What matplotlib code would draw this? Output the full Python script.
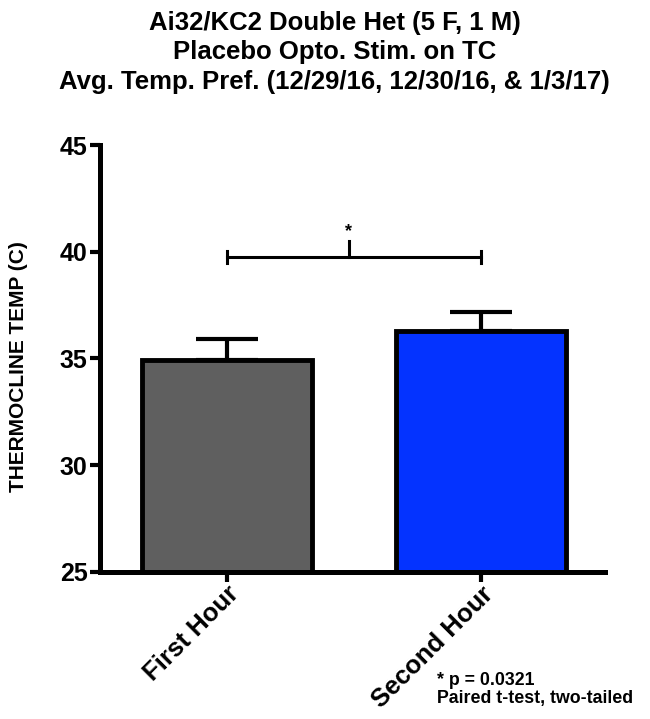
import numpy as np
import matplotlib.pyplot as plt

plt.rcParams['font.family'] = ['Liberation Sans', 'DejaVu Sans']
plt.rcParams['font.weight'] = 'bold'

# data
groups = ['First Hour', 'Second Hour']
means = [34.92, 36.30]
sems = [1.0, 0.86]
colors = ['#5f5f5f', '#0433ff']
yticks = [25, 30, 35, 40, 45]

fig = plt.figure(figsize=(6.5, 7.19), dpi=100)
ax = fig.add_axes([0.1538, 0.2045, 0.777, 0.5938])

x = np.arange(len(groups))
ax.bar(x, means, width=0.67, color=colors, edgecolor='black', linewidth=3.5, zorder=2)
ax.errorbar(x, means, yerr=[[0, 0], sems], fmt='none', ecolor='black',
            elinewidth=3, capsize=22, capthick=3, zorder=1)

ax.set_xlim(-0.5, 1.488)
ax.set_ylim(25, 45)
ax.set_yticks(yticks)
ax.set_xticks(x)
ax.set_xticklabels(groups, rotation=45, ha='right', rotation_mode='anchor',
                   fontsize=18.5, fontweight='bold')
ax.tick_params(axis='y', labelsize=18, width=3, length=7, pad=2, direction='out')
ax.tick_params(axis='x', width=3, length=7, pad=0, direction='out')
for lbl in ax.get_yticklabels():
    lbl.set_fontweight('bold')
for s in ['top', 'right']:
    ax.spines[s].set_visible(False)
for s in ['left', 'bottom']:
    ax.spines[s].set_linewidth(3.6)

ax.set_ylabel('THERMOCLINE TEMP (C)', fontsize=15, fontweight='bold')
ax.yaxis.set_label_coords(-0.143, 0.48)

# significance bracket
yb = 39.75
ax.plot([x[0], x[1]], [yb, yb], color='black', lw=2.2, zorder=3)
ax.plot([x[0], x[0]], [yb - 0.3, yb + 0.3], color='black', lw=2.2)
ax.plot([x[1], x[1]], [yb - 0.3, yb + 0.3], color='black', lw=2.2)
ax.plot([0.48, 0.48], [yb, yb + 0.75], color='black', lw=2.2)
ax.text(0.48, yb + 0.8, '*', ha='center', va='bottom', fontsize=13, fontweight='bold')

fig.text(0.515, 0.985, 'Ai32/KC2 Double Het (5 F, 1 M)\nPlacebo Opto. Stim. on TC\n'
         'Avg. Temp. Pref. (12/29/16, 12/30/16, & 1/3/17)',
         ha='center', va='top', fontsize=18.5, fontweight='bold', linespacing=1.3)

fig.text(0.673, 0.066, '* p = 0.0321\nPaired t-test, two-tailed',
         ha='left', va='top', fontsize=12.8, fontweight='bold', linespacing=1.15)

fig.savefig('out.png', dpi=100)
